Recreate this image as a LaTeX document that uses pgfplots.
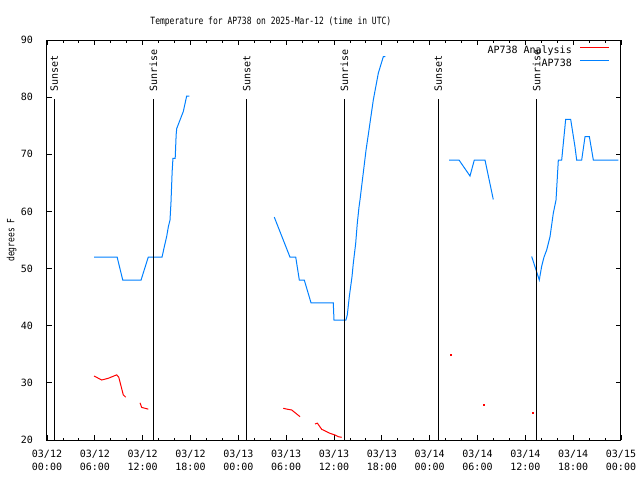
\documentclass[border=0pt]{standalone}
\usepackage{pgfplots}
\pgfplotsset{compat=1.18}
\usepackage{fontspec}
\setmainfont{DejaVu Sans Mono}
\newfontfamily\narrowfont[FakeStretch=0.8]{DejaVu Sans Mono}
\definecolor{gblue}{RGB}{0,128,255}
\definecolor{gred}{RGB}{255,0,0}
\begin{document}
\begin{tikzpicture}[x=1pt,y=1pt]
\path[use as bounding box] (-47,-40) rectangle (593,440);
\begin{axis}[
  at={(0,0)}, anchor=south west,
  scale only axis, width=574pt, height=400pt,
  xmin=0, xmax=72, ymin=20, ymax=90,
  axis line style={line width=1pt},
  xtick={0,6,...,72},
  minor xtick={2,4,8,10,14,16,20,22,26,28,32,34,38,40,44,46,50,52,56,58,62,64,68,70},
  xticklabels={{03/12\\00:00},{03/12\\06:00},{03/12\\12:00},{03/12\\18:00},{03/13\\00:00},{03/13\\06:00},{03/13\\12:00},{03/13\\18:00},{03/14\\00:00},{03/14\\06:00},{03/14\\12:00},{03/14\\18:00},{03/15\\00:00}},
  ytick={20,30,...,90},
  tick align=inside, xtick pos=both, ytick pos=both,
  major tick length=5pt, minor tick length=2.5pt,
  tick style={black, line width=0.8pt},
  xticklabel style={font=\fontsize{10}{13}\selectfont, align=center, inner sep=0pt, yshift=-10pt},
  yticklabel style={font=\fontsize{10}{12}\selectfont, inner sep=0pt, xshift=-14pt},
  /pgf/number format/assume math mode=true,
  ylabel={\narrowfont degrees F},
  ylabel style={at={(axis description cs:-0.0618,0.5)}, anchor=center, rotate=0, inner sep=0pt, font=\fontsize{10}{12}\selectfont},
  title={\narrowfont Temperature for AP738 on 2025-Mar-12 (time in UTC)},
  title style={at={(axis description cs:0.39,1.03)}, anchor=center, inner sep=0pt, font=\fontsize{10}{12}\selectfont},
  unbounded coords=jump,
  legend plot pos=right,
  legend cell align=right,
  legend image code/.code={\draw[#1] (0pt,3.7pt) -- (29pt,3.7pt);},
  legend style={at={(rel axis cs:1,1)}, anchor=north east, xshift=-11pt, yshift=-6pt,
    fill=none, draw=none, inner sep=0pt, row sep=3pt, column sep=8pt,
    nodes={inner sep=0pt, text height=7.5pt, text depth=2.5pt, font=\fontsize{10}{12}\selectfont}},
]
% Analysis (red)
\addplot[gred, line width=1pt] coordinates {
 (5.9,31.2) (6.86,30.5) (7.69,30.8) (8.74,31.4) (9.0,31.0) (9.57,27.9) (9.87,27.5)
 (10.5,nan)
 (11.67,26.5) (11.88,25.7) (12.71,25.4)
 (20,nan)
 (29.64,25.55) (30.1,25.4) (30.7,25.25) (31.74,24.08)
 (32.5,nan)
 (33.62,22.8) (33.91,22.95) (34.46,21.87) (35.5,21.17) (36.13,20.87) (36.54,20.58) (36.97,20.47)
};
\addlegendentry{AP738 Analysis}
% Observations (blue)
\addplot[gblue, line width=1pt] coordinates {
 (5.9,52) (8.8,52) (9.5,48) (11.8,48) (12.7,52) (14.43,52) (14.71,53.8) (15.01,55.6) (15.22,57.3) (15.43,58.5) (15.55,61.5) (15.7,67) (15.8,69.3) (16.08,69.3) (16.2,73.4) (16.27,74.5) (17.1,77.5) (17.52,80.2) (17.85,80.2)
 (20,nan)
 (28.51,59) (30.48,52) (31.2,52) (31.65,48) (32.27,48) (33.12,44) (35.91,44) (36.0,41) (37.5,41) (37.67,41.9) (37.92,45.1) (38.26,48.6) (38.42,50.9) (38.72,54.4) (38.92,57.9) (39.14,60.8) (39.26,62) (40.02,70.75) (40.3,73.4) (40.93,79.5) (41.56,84.2) (42.19,87.1) (42.44,87.1)
 (45,nan)
 (50.43,69) (51.68,69) (53.06,66.2) (53.6,69) (54.94,69) (55.98,62.1)
 (58,nan)
 (60.8,52.1) (61.75,48) (62.05,50.4) (62.34,52) (62.68,53.25) (63.1,55.6) (63.51,59.7) (63.85,62) (64.14,69) (64.56,69) (65.06,76.1) (65.69,76.1) (66.23,71.3) (66.44,69) (67.07,69) (67.49,73.1) (68.03,73.1) (68.53,69) (71.66,69)
};
\addlegendentry{AP738}
% isolated analysis points
\addplot[gred, only marks, mark=square*, mark size=0.5pt, forget plot] coordinates {(50.68,35.0) (54.73,26.2) (60.88,24.85)};
% sunrise / sunset lines
\addplot[black, line width=1pt, forget plot] coordinates {(0.92,20) (0.92,79.7)};
\addplot[black, line width=1pt, forget plot] coordinates {(13.34,20) (13.34,79.7)};
\addplot[black, line width=1pt, forget plot] coordinates {(25.05,20) (25.05,79.7)};
\addplot[black, line width=1pt, forget plot] coordinates {(37.3,20) (37.3,79.7)};
\addplot[black, line width=1pt, forget plot] coordinates {(49.09,20) (49.09,79.7)};
\addplot[black, line width=1pt, forget plot] coordinates {(61.43,20) (61.43,79.7)};
\node[rotate=90, anchor=west, inner sep=0pt, font=\fontsize{10}{12}\selectfont] at (axis cs:0.92,80.9) {Sunset};
\node[rotate=90, anchor=west, inner sep=0pt, font=\fontsize{10}{12}\selectfont] at (axis cs:13.34,80.9) {Sunrise};
\node[rotate=90, anchor=west, inner sep=0pt, font=\fontsize{10}{12}\selectfont] at (axis cs:25.05,80.9) {Sunset};
\node[rotate=90, anchor=west, inner sep=0pt, font=\fontsize{10}{12}\selectfont] at (axis cs:37.3,80.9) {Sunrise};
\node[rotate=90, anchor=west, inner sep=0pt, font=\fontsize{10}{12}\selectfont] at (axis cs:49.09,80.9) {Sunset};
\node[rotate=90, anchor=west, inner sep=0pt, font=\fontsize{10}{12}\selectfont] at (axis cs:61.43,80.9) {Sunrise};
\end{axis}
\end{tikzpicture}
\end{document}
